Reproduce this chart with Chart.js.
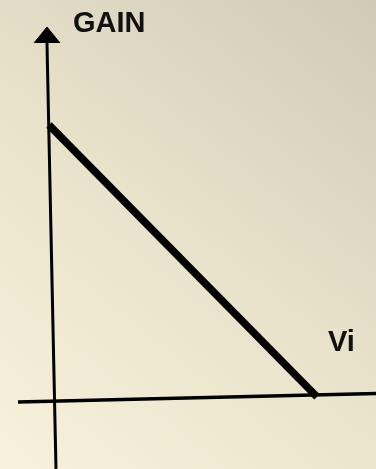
<!DOCTYPE html>
<html>
<head>
<meta charset="utf-8">
<script src="https://cdn.jsdelivr.net/npm/chart.js@4/dist/chart.umd.min.js"></script>
<style>
  html, body { margin: 0; padding: 0; background: #e8e2c9; }
  #wrap { width: 376px; height: 469px; }
</style>
</head>
<body>
<div id="wrap"><canvas id="c" width="376" height="469"></canvas></div>
<script>
// Data (conceptual units: Vi on x, GAIN on y)
const gainLineX = [-0.017, 1.0];
const gainLineY = [1.0, 0.0145];
const yAxisX = [-0.0247, 0.0095];
const yAxisY = [1.297, -0.246];
const xAxisX = [-0.1347, 1.224];
const xAxisY = [-0.0036, 0.027];
const arrowX = [-0.074, -0.0247, 0.0247];
const arrowY = [1.297, 1.355, 1.297];
const labelTexts = ['GAIN', 'Vi'];
const labelX = [0.074, 1.042];
const labelY = [1.337, 0.181];
const xRange = [-0.203, 1.224];
const yRange = [-0.2464, 1.4529];

const pts = (xs, ys) => xs.map((x, i) => ({ x: x, y: ys[i] }));

const bgPlugin = {
  id: 'bg',
  beforeDraw(chart) {
    const { ctx, width, height } = chart;
    const g = ctx.createLinearGradient(0, height, width, 0);
    g.addColorStop(0, '#f8f2dc');
    g.addColorStop(0.5, '#e8e2ca');
    g.addColorStop(1, '#d1cab7');
    ctx.save();
    ctx.fillStyle = g;
    ctx.fillRect(0, 0, width, height);
    ctx.restore();
  }
};

const labelPlugin = {
  id: 'labels',
  afterDatasetsDraw(chart) {
    const { ctx, scales } = chart;
    ctx.save();
    ctx.fillStyle = '#111';
    ctx.font = 'bold 29px "Liberation Sans", Arial, sans-serif';
    ctx.textAlign = 'left';
    ctx.textBaseline = 'alphabetic';
    labelTexts.forEach((t, i) => {
      ctx.fillText(t, scales.x.getPixelForValue(labelX[i]), scales.y.getPixelForValue(labelY[i]));
    });
    ctx.restore();
  }
};

new Chart(document.getElementById('c'), {
  type: 'scatter',
  data: {
    datasets: [
      { data: pts(yAxisX, yAxisY), showLine: true, borderColor: '#000', borderWidth: 3, pointRadius: 0, clip: false },
      { data: pts(xAxisX, xAxisY), showLine: true, borderColor: '#000', borderWidth: 3.5, pointRadius: 0, clip: false },
      { data: pts(arrowX, arrowY), showLine: true, borderColor: '#000', backgroundColor: '#000', borderWidth: 1, pointRadius: 0, fill: 'shape', clip: false },
      { data: pts(gainLineX, gainLineY), showLine: true, borderColor: '#000', borderWidth: 7.5, borderCapStyle: 'butt', pointRadius: 0, clip: false }
    ]
  },
  options: {
    responsive: false,
    animation: false,
    devicePixelRatio: 1,
    layout: { padding: 0 },
    plugins: { legend: { display: false }, tooltip: { enabled: false }, title: { display: false } },
    scales: {
      x: { type: 'linear', min: xRange[0], max: xRange[1], display: false },
      y: { type: 'linear', min: yRange[0], max: yRange[1], display: false }
    }
  },
  plugins: [bgPlugin, labelPlugin]
});
</script>
</body>
</html>
